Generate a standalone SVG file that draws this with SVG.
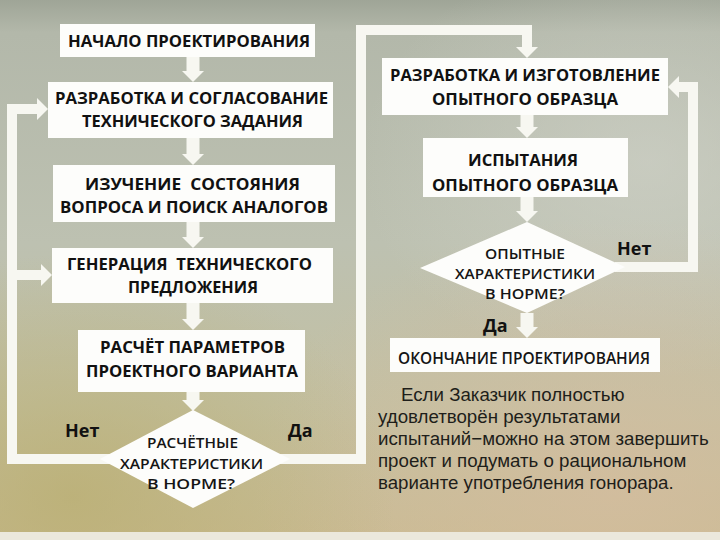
<svg xmlns="http://www.w3.org/2000/svg" width="720" height="540" viewBox="0 0 720 540">
<defs>
  <linearGradient id="bg" x1="0" y1="0" x2="0" y2="1">
    <stop offset="0" stop-color="#9fa597"/>
    <stop offset="0.06" stop-color="#b3b8aa"/>
    <stop offset="0.45" stop-color="#bdc1b1"/>
    <stop offset="0.75" stop-color="#c3c0a2"/>
    <stop offset="1" stop-color="#c9bb92"/>
  </linearGradient>
  <radialGradient id="warm" cx="0.85" cy="0.9" r="0.5">
    <stop offset="0" stop-color="#d6bda0" stop-opacity="0.7"/>
    <stop offset="1" stop-color="#d6bda0" stop-opacity="0"/>
  </radialGradient>
  <radialGradient id="olive" cx="0.1" cy="0.92" r="0.45">
    <stop offset="0" stop-color="#b8ad6e" stop-opacity="0.7"/>
    <stop offset="1" stop-color="#b8ad6e" stop-opacity="0"/>
  </radialGradient>
  <radialGradient id="pale" cx="0.9" cy="0.3" r="0.4">
    <stop offset="0" stop-color="#d2d4cb" stop-opacity="0.6"/>
    <stop offset="1" stop-color="#d2d4cb" stop-opacity="0"/>
  </radialGradient>
  <marker id="ah" markerUnits="userSpaceOnUse" markerWidth="24" markerHeight="24" refX="0" refY="11" orient="auto">
    <path d="M0,0 L11,11 L0,22 z" fill="#f7f7f1"/>
  </marker>
</defs>
<style>
  .box { fill: #fdfdfb; }
  .dia { fill: #fdfdfb; }
  .t { font-family: "Open Sans", "Noto Sans", "Liberation Sans", sans-serif; font-weight: bold; font-size: 16.5px; fill: #111111; text-anchor: middle; }
  .d { font-family: "Open Sans", "Noto Sans", "Liberation Sans", sans-serif; font-weight: 600; font-size: 14px; fill: #151515; text-anchor: middle; }
  .e { font-family: "Open Sans", "Noto Sans", "Liberation Sans", sans-serif; font-weight: 600; font-size: 16px; fill: #151515; text-anchor: middle; }
  .lbl { font-family: "Open Sans", "Noto Sans", "Liberation Sans", sans-serif; font-weight: bold; font-size: 18px; fill: #111111; }
  .p { font-family: "Liberation Sans", Arial, sans-serif; font-size: 18.7px; fill: #1e1e1a; }
  .sh { stroke: #f7f7f1; stroke-width: 13; fill: none; }
  .ln { stroke: #f7f7f1; stroke-width: 10; fill: none; stroke-linejoin: miter; }
</style>

<rect x="0" y="0" width="720" height="540" fill="url(#bg)"/>
<rect x="0" y="0" width="720" height="540" fill="url(#pale)"/>
<rect x="0" y="0" width="720" height="540" fill="url(#warm)"/>
<rect x="0" y="0" width="720" height="540" fill="url(#olive)"/>
<rect x="0" y="532" width="720" height="8" fill="#ebe8dc"/>

<g id="connectors">
  <line class="sh" x1="193" y1="57" x2="193" y2="71" marker-end="url(#ah)"/>
  <line class="sh" x1="193" y1="138" x2="193" y2="154" marker-end="url(#ah)"/>
  <line class="sh" x1="193" y1="222" x2="193" y2="237" marker-end="url(#ah)"/>
  <line class="sh" x1="193" y1="303" x2="193" y2="319" marker-end="url(#ah)"/>
  <line class="sh" x1="193" y1="392" x2="193" y2="400" marker-end="url(#ah)"/>
  <line class="sh" x1="527" y1="115" x2="527" y2="127" marker-end="url(#ah)"/>
  <line class="sh" x1="527" y1="197" x2="527" y2="211" marker-end="url(#ah)"/>
  <line class="sh" x1="527" y1="313" x2="527" y2="327" marker-end="url(#ah)"/>
  <polyline class="ln" points="110,459 12,459 12,109 37,109" marker-end="url(#ah)"/>
  <line class="ln" x1="12" y1="275" x2="41" y2="275" marker-end="url(#ah)"/>
  <polyline class="ln" points="280,459 361,459 361,30 527,30 527,47" marker-end="url(#ah)"/>
  <polyline class="ln" points="615,267 693,267 693,87 679,87" marker-end="url(#ah)"/>
</g>

<g id="n_start">
  <rect class="box" x="60" y="24" width="255" height="33"/>
  <text class="t" x="189" y="47" textLength="242" lengthAdjust="spacingAndGlyphs">НАЧАЛО ПРОЕКТИРОВАНИЯ</text>
</g>
<g id="n_tz">
  <rect class="box" x="48" y="82" width="285" height="56"/>
  <text class="t" x="191.5" y="104" textLength="273" lengthAdjust="spacingAndGlyphs">РАЗРАБОТКА И СОГЛАСОВАНИЕ</text>
  <text class="t" x="192.5" y="127" textLength="221" lengthAdjust="spacingAndGlyphs">ТЕХНИЧЕСКОГО ЗАДАНИЯ</text>
</g>
<g id="n_study">
  <rect class="box" x="53" y="165" width="282" height="57"/>
  <text class="t" x="192.5" y="190" textLength="215" lengthAdjust="spacingAndGlyphs" xml:space="preserve">ИЗУЧЕНИЕ  СОСТОЯНИЯ</text>
  <text class="t" x="194" y="213" textLength="268" lengthAdjust="spacingAndGlyphs">ВОПРОСА И ПОИСК АНАЛОГОВ</text>
</g>
<g id="n_gen">
  <rect class="box" x="52" y="248" width="281" height="55"/>
  <text class="t" x="189.5" y="270" textLength="245" lengthAdjust="spacingAndGlyphs" xml:space="preserve">ГЕНЕРАЦИЯ  ТЕХНИЧЕСКОГО</text>
  <text class="t" x="193" y="293" textLength="130" lengthAdjust="spacingAndGlyphs">ПРЕДЛОЖЕНИЯ</text>
</g>
<g id="n_calc">
  <rect class="box" x="78" y="330" width="227" height="62"/>
  <text class="t" x="192.5" y="353" textLength="185" lengthAdjust="spacingAndGlyphs">РАСЧЁТ ПАРАМЕТРОВ</text>
  <text class="t" x="192" y="377" textLength="212" lengthAdjust="spacingAndGlyphs">ПРОЕКТНОГО ВАРИАНТА</text>
</g>
<g id="n_check1">
  <polygon class="dia" points="193,410 290,459 193,508 100,459"/>
  <text class="d" x="192.5" y="448" textLength="91" lengthAdjust="spacingAndGlyphs">РАСЧЁТНЫЕ</text>
  <text class="d" x="191.5" y="469" textLength="143" lengthAdjust="spacingAndGlyphs">ХАРАКТЕРИСТИКИ</text>
  <text class="d" x="191" y="489" textLength="88" lengthAdjust="spacingAndGlyphs">В НОРМЕ?</text>
</g>
<g id="n_proto">
  <rect class="box" x="382" y="58" width="286" height="57"/>
  <text class="t" x="525" y="81" textLength="270" lengthAdjust="spacingAndGlyphs">РАЗРАБОТКА И ИЗГОТОВЛЕНИЕ</text>
  <text class="t" x="525" y="105" textLength="186" lengthAdjust="spacingAndGlyphs">ОПЫТНОГО ОБРАЗЦА</text>
</g>
<g id="n_test">
  <rect class="box" x="423" y="138" width="205" height="59"/>
  <text class="t" x="523" y="166" textLength="110" lengthAdjust="spacingAndGlyphs">ИСПЫТАНИЯ</text>
  <text class="t" x="525" y="191" textLength="186" lengthAdjust="spacingAndGlyphs">ОПЫТНОГО ОБРАЗЦА</text>
</g>
<g id="n_check2">
  <polygon class="dia" points="527,222 625,267 527,313 420,268"/>
  <text class="d" x="525" y="259" textLength="80" lengthAdjust="spacingAndGlyphs">ОПЫТНЫЕ</text>
  <text class="d" x="525" y="279" textLength="140" lengthAdjust="spacingAndGlyphs">ХАРАКТЕРИСТИКИ</text>
  <text class="d" x="525" y="299" textLength="80" lengthAdjust="spacingAndGlyphs">В НОРМЕ?</text>
</g>
<g id="n_end">
  <rect class="box" x="390" y="338" width="270" height="34"/>
  <text class="e" x="524" y="364" textLength="252" lengthAdjust="spacingAndGlyphs">ОКОНЧАНИЕ ПРОЕКТИРОВАНИЯ</text>
</g>

<g id="labels">
  <text class="lbl" x="65" y="437">Нет</text>
  <text class="lbl" x="288" y="437">Да</text>
  <text class="lbl" x="617" y="255">Нет</text>
  <text class="lbl" x="483" y="332">Да</text>
</g>

<g id="note">
  <text class="p" x="401" y="401">Если Заказчик полностью</text>
  <text class="p" x="378" y="423">удовлетворён результатами</text>
  <text class="p" x="378" y="445">испытаний−можно на этом завершить</text>
  <text class="p" x="378" y="467">проект и подумать о рациональном</text>
  <text class="p" x="378" y="489">варианте употребления гонорара.</text>
</g>
</svg>
